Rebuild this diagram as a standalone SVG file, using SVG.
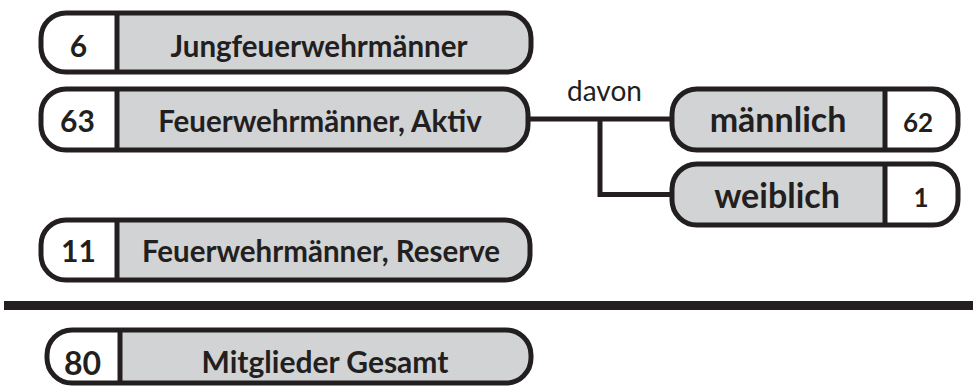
<svg xmlns="http://www.w3.org/2000/svg" width="973" height="387" viewBox="0 0 973 387">
<style>
.gray{fill:#d1d3d4}
.white{fill:#ffffff}
.frame{fill:none;stroke:#231f20;stroke-width:5}
.div{stroke:#231f20;stroke-width:5}
.t{font-family:Lato,"Liberation Sans",sans-serif;font-weight:bold;fill:#231f20;text-anchor:middle}
.n{font-size:30px}
.l{font-size:29.5px}
.con{fill:none;stroke:#231f20;stroke-width:5}
</style>
<rect x="0" y="0" width="973" height="387" fill="#ffffff"/>
<g id="connectors">
<path class="con" d="M528,119 H672 M600,119 V194.5 H672"/>
</g>
<text x="604.5" y="101" style="font-family:Lato,'Liberation Sans',sans-serif;font-size:28px;fill:#231f20;text-anchor:middle">davon</text>
<g id="jungfeuerwehr">
<rect class="gray" x="41" y="13" width="490" height="59" rx="25"/>
<path class="white" d="M117,13 H66 A25,25 0 0 0 41,38 V47 A25,25 0 0 0 66,72 H117 Z"/>
<rect class="frame" x="41" y="13" width="490" height="59" rx="25"/>
<line class="div" x1="117" y1="13" x2="117" y2="72"/>
<text class="t n" x="78.5" y="57">6</text>
<text class="t l" x="319" y="57">Jungfeuerwehrmänner</text>
</g>
<g id="aktiv">
<rect class="gray" x="41" y="89" width="487" height="61" rx="25"/>
<path class="white" d="M117,89 H66 A25,25 0 0 0 41,114 V125 A25,25 0 0 0 66,150 H117 Z"/>
<rect class="frame" x="41" y="89" width="487" height="61" rx="25"/>
<line class="div" x1="117" y1="89" x2="117" y2="150"/>
<text class="t n" x="77.5" y="132">63</text>
<text class="t l" x="320" y="132">Feuerwehrmänner, Aktiv</text>
</g>
<g id="maennlich">
<rect class="white" x="672" y="89" width="286" height="61" rx="25"/>
<path class="gray" d="M885,89 H697 A25,25 0 0 0 672,114 V125 A25,25 0 0 0 697,150 H885 Z"/>
<rect class="frame" x="672" y="89" width="286" height="61" rx="25"/>
<line class="div" x1="885" y1="89" x2="885" y2="150"/>
<text class="t" style="font-size:34px" x="778" y="132">männlich</text>
<text class="t" style="font-size:26px" x="918" y="132">62</text>
</g>
<g id="weiblich">
<rect class="white" x="672" y="164" width="286" height="61" rx="25"/>
<path class="gray" d="M885,164 H697 A25,25 0 0 0 672,189 V200 A25,25 0 0 0 697,225 H885 Z"/>
<rect class="frame" x="672" y="164" width="286" height="61" rx="25"/>
<line class="div" x1="885" y1="164" x2="885" y2="225"/>
<text class="t" style="font-size:34px" x="777" y="208">weiblich</text>
<text class="t" style="font-size:26px" x="921" y="207">1</text>
</g>
<g id="reserve">
<rect class="gray" x="41" y="220" width="489" height="60" rx="25"/>
<path class="white" d="M117,220 H66 A25,25 0 0 0 41,245 V255 A25,25 0 0 0 66,280 H117 Z"/>
<rect class="frame" x="41" y="220" width="489" height="60" rx="25"/>
<line class="div" x1="117" y1="220" x2="117" y2="280"/>
<text class="t n" x="78.5" y="262">11</text>
<text class="t l" x="321" y="262">Feuerwehrmänner, Reserve</text>
</g>
<rect id="separator" x="4" y="301" width="969" height="9" fill="#231f20"/>
<g id="gesamt">
<rect class="gray" x="47" y="330" width="484" height="53" rx="25"/>
<path class="white" d="M120,330 H72 A25,25 0 0 0 47,355 V358 A25,25 0 0 0 72,383 H120 Z"/>
<rect class="frame" x="47" y="330" width="484" height="53" rx="25"/>
<line class="div" x1="120" y1="330" x2="120" y2="383"/>
<text class="t" style="font-size:32px" x="82.5" y="375">80</text>
<text class="t" style="font-size:30px" x="325" y="373">Mitglieder Gesamt</text>
</g>
</svg>
